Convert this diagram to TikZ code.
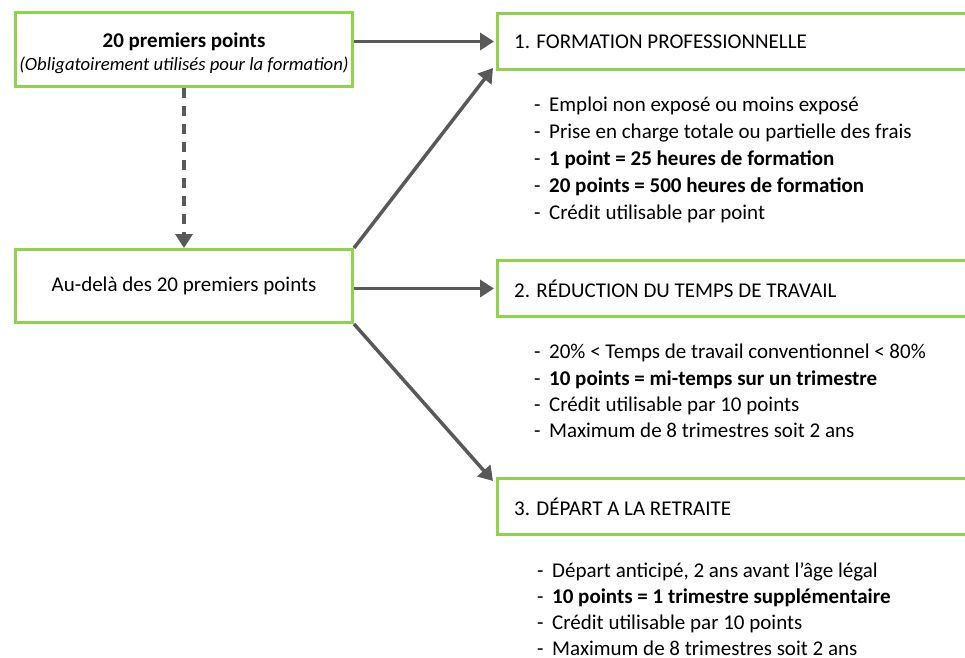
\documentclass[tikz,border=0pt]{standalone}
\usepackage{fontspec}
\setmainfont{Carlito}
\usetikzlibrary{arrows.meta}
\definecolor{boxgreen}{RGB}{146,208,80}
\definecolor{arrowgray}{RGB}{89,89,89}
\tikzset{
  gbox/.style={draw=boxgreen, line width=3pt, fill=white, rectangle, anchor=north west, inner sep=0pt},
  conn/.style={draw=arrowgray, line width=3.5pt, -{Triangle[width=17pt,length=14pt]}},
  dconn/.style={conn, dash pattern=on 10pt off 8pt},
  listtxt/.style={anchor=north west, align=left, inner sep=0pt},
  titletxt/.style={anchor=west, inner sep=0pt, font=\fontsize{21}{25}\selectfont}
}
\newcommand{\itm}[1]{\makebox[15pt][l]{-}#1}
\begin{document}
\begin{tikzpicture}[x=1pt,y=-1pt]
\useasboundingbox (0,0) rectangle (965,657);
\begin{scope}
\clip (0,0) rectangle (965,657);
% left boxes
\node[gbox, minimum width=337pt, minimum height=74pt] (a) at (14,11) {};
\node[align=center, inner sep=0pt, font=\fontsize{21}{23}\selectfont] (at) at ([yshift=-4pt]a.center) {\textbf{20 premiers points}\\{\fontsize{18.7}{23}\selectfont\itshape (Obligatoirement utilisés pour la formation)}};
\node[gbox, minimum width=337pt, minimum height=73pt] (b) at (14,248) {};
\node[font=\fontsize{21}{25}\selectfont] (bt) at (b.center) {Au-delà des 20 premiers points};
% right boxes
\node[gbox, minimum width=490pt, minimum height=56pt] (f) at (496,12) {};
\node[titletxt] (ft) at ([xshift=18pt]f.west) {1. FORMATION PROFESSIONNELLE};
\node[gbox, minimum width=490pt, minimum height=56pt] (t) at (496,259) {};
\node[titletxt] (tt) at ([xshift=18pt]t.west) {2. RÉDUCTION DU TEMPS DE TRAVAIL};
\node[gbox, minimum width=490pt, minimum height=56pt] (r) at (496,477) {};
\node[titletxt] (rt) at ([xshift=18pt]r.west) {3. DÉPART A LA RETRAITE};
\end{scope}
% lists
\node[listtxt, font=\fontsize{21}{27}\selectfont] (fl) at (534,97) {\itm{Emploi non exposé ou moins exposé}\\
\itm{Prise en charge totale ou partielle des frais}\\
\itm{\textbf{1 point = 25 heures de formation}}\\
\itm{\textbf{20 points = 500 heures de formation}}\\
\itm{Crédit utilisable par point}};
\node[listtxt, font=\fontsize{21}{26.4}\selectfont] (tl) at (534,344) {\itm{20\% < Temps de travail conventionnel < 80\%}\\
\itm{\textbf{10 points = mi-temps sur un trimestre}}\\
\itm{Crédit utilisable par 10 points}\\
\itm{Maximum de 8 trimestres soit 2 ans}};
\node[listtxt, font=\fontsize{21}{26.2}\selectfont] (rl) at (537,562) {\itm{Départ anticipé, 2 ans avant l’âge légal}\\
\itm{\textbf{10 points = 1 trimestre supplémentaire}}\\
\itm{Crédit utilisable par 10 points}\\
\itm{Maximum de 8 trimestres soit 2 ans}};
% connectors
\draw[conn] (a.east |- f.west) -- ([xshift=-2pt]f.west);
\draw[conn] (b.east |- t.west) -- ([xshift=-2pt]t.west);
\draw[conn] (b.north east) -- ([shift={(-3pt,3pt)}]f.south west);
\draw[conn] (b.south east) -- ([shift={(-3pt,-4pt)}]r.north west);
\draw[dconn] (a.south) -- (b.north);
\end{tikzpicture}
\end{document}
